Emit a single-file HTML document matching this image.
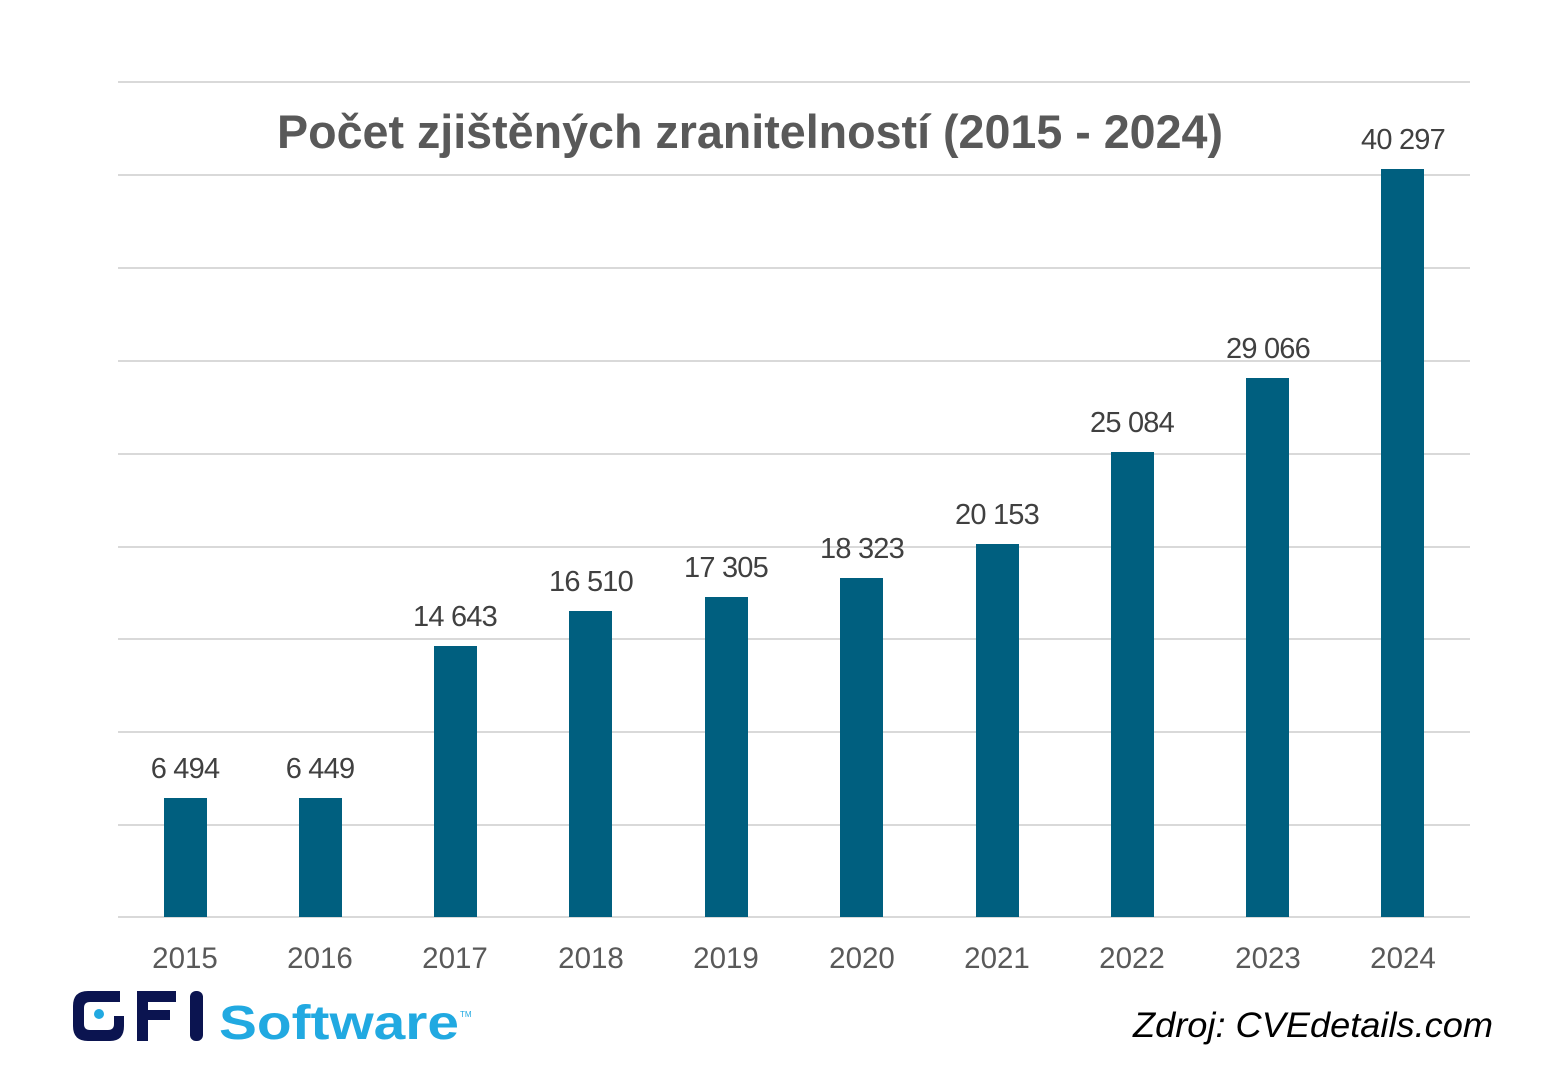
<!DOCTYPE html><html><head><meta charset="utf-8"><style>body{margin:0;background:#fff}svg{display:block}</style></head><body>
<svg width="1568" height="1078" viewBox="0 0 1568 1078" xmlns="http://www.w3.org/2000/svg" font-family="Liberation Sans, sans-serif">
<g stroke="#d9d9d9" stroke-width="2">
<line x1="118" x2="1470" y1="82" y2="82"/><line x1="118" x2="1470" y1="175" y2="175"/><line x1="118" x2="1470" y1="268" y2="268"/><line x1="118" x2="1470" y1="361" y2="361"/><line x1="118" x2="1470" y1="454" y2="454"/><line x1="118" x2="1470" y1="547" y2="547"/><line x1="118" x2="1470" y1="639" y2="639"/><line x1="118" x2="1470" y1="732" y2="732"/><line x1="118" x2="1470" y1="825" y2="825"/><line x1="118" x2="1470" y1="917" y2="917"/>
</g>
<text x="750" y="148" text-anchor="middle" font-size="47" font-weight="bold" fill="#595959" textLength="946" lengthAdjust="spacingAndGlyphs">Počet zjištěných zranitelností (2015 - 2024)</text>
<g fill="#005f7f">
<rect x="164" y="798" width="43" height="119"/>
<rect x="299" y="798" width="43" height="119"/>
<rect x="434" y="646" width="43" height="271"/>
<rect x="569" y="611" width="43" height="306"/>
<rect x="705" y="597" width="43" height="320"/>
<rect x="840" y="578" width="43" height="339"/>
<rect x="976" y="544" width="43" height="373"/>
<rect x="1111" y="452" width="43" height="465"/>
<rect x="1246" y="378" width="43" height="539"/>
<rect x="1381" y="169" width="43" height="748"/>
</g>
<g font-size="29" fill="#404040" text-anchor="middle" letter-spacing="-0.8">
<text x="185" y="778">6 494</text><text x="320" y="778">6 449</text><text x="455" y="626">14 643</text><text x="591" y="591">16 510</text><text x="726" y="577">17 305</text><text x="862" y="558">18 323</text><text x="997" y="524">20 153</text><text x="1132" y="432">25 084</text><text x="1268" y="358">29 066</text><text x="1403" y="149">40 297</text>
</g>
<g font-size="29.5" fill="#595959" text-anchor="middle">
<text x="185" y="968">2015</text><text x="320" y="968">2016</text><text x="455" y="968">2017</text><text x="591" y="968">2018</text><text x="726" y="968">2019</text><text x="862" y="968">2020</text><text x="997" y="968">2021</text><text x="1132" y="968">2022</text><text x="1268" y="968">2023</text><text x="1403" y="968">2024</text>
</g>
<g fill="#0b1450">
<path d="M88 991 H120 V1002 H90 Q84 1002 84 1008 V1024 Q84 1030 90 1030 H108 Q114 1030 114 1024 V1016 H124 V1026 Q124 1041 110 1041 H88 Q73 1041 73 1026 V1006 Q73 991 88 991Z"/>
<circle cx="99" cy="1014" r="5" fill="#21a9e1"/>
<path d="M137 991 H176 V1002 H148 V1010 H170 V1020 H148 V1041 H137Z"/>
<rect x="190" y="991" width="13" height="50" rx="6"/>
</g>
<text x="219" y="1039" font-size="48" font-weight="bold" fill="#21a9e1" textLength="240" lengthAdjust="spacingAndGlyphs">Software</text>
<text x="460" y="1017" font-size="8" fill="#21a9e1">TM</text>
<text x="1493" y="1037" text-anchor="end" font-size="35" font-style="italic" fill="#000" textLength="360" lengthAdjust="spacingAndGlyphs">Zdroj: CVEdetails.com</text>
</svg>
</body></html>
